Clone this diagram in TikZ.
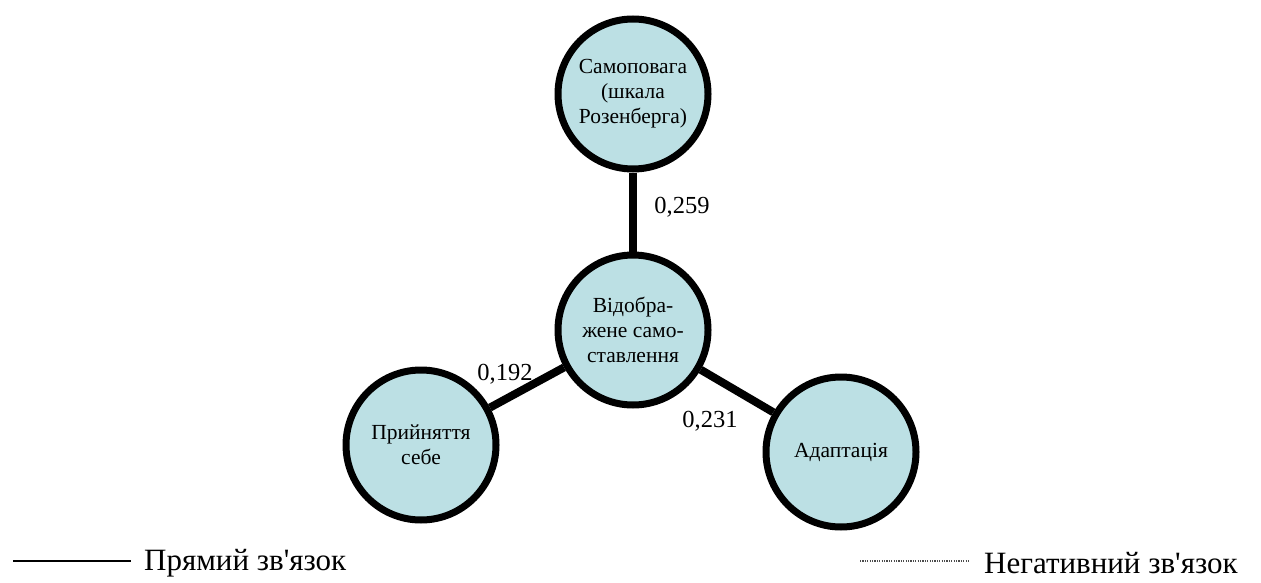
\documentclass[tikz,border=0pt]{standalone}
\usepackage{fontspec}
\setmainfont{Liberation Serif}[Ligatures=TeXOff]
\definecolor{nodefill}{RGB}{188,224,228}
\begin{document}
\begin{tikzpicture}[x=1pt,y=-1pt,
  bubble/.style={circle,draw=black,line width=7pt,fill=nodefill,minimum size=150pt,inner sep=0pt,align=center,font=\fontsize{21.5}{25}\selectfont},
  edge/.style={line width=8pt},
  val/.style={font=\fontsize{24.5}{28}\selectfont,inner sep=0pt},
  legtext/.style={font=\fontsize{31}{34}\selectfont,anchor=west,inner sep=0pt}]
\useasboundingbox (0,0) rectangle (1261,583);
\node[bubble] (top) at (633,94) {Самоповага\\(шкала\\Розенберга)};
\node[bubble] (mid) at (633,330) {Відобра-\\жене само-\\ставлення};
\node[bubble] (left) at (421,445) {Прийняття\\себе};
\node[bubble] (right) at (841,452) {Адаптація};
\draw[edge] (top) -- (mid);
\draw[edge] (mid) -- (left);
\draw[edge] (mid) -- (right);
\node[val] (v1) at (682,207) {0,259};
\node[val] (v2) at (505,374) {0,192};
\node[val] (v3) at (710,421) {0,231};
\coordinate (l1a) at (13,561);
\coordinate (l1b) at (131,561);
\draw[line width=1.2pt] (l1a) -- (l1b);
\node[legtext] (t1) at (144,563) {Прямий зв'язок};
\coordinate (l2a) at (860,561);
\coordinate (l2b) at (969,561);
\draw[line width=1.2pt,black!70,dash pattern=on 1.2pt off 1.2pt] (l2a) -- (l2b);
\node[legtext] (t2) at (984,563) {Негативний зв'язок};
\end{tikzpicture}
\end{document}
